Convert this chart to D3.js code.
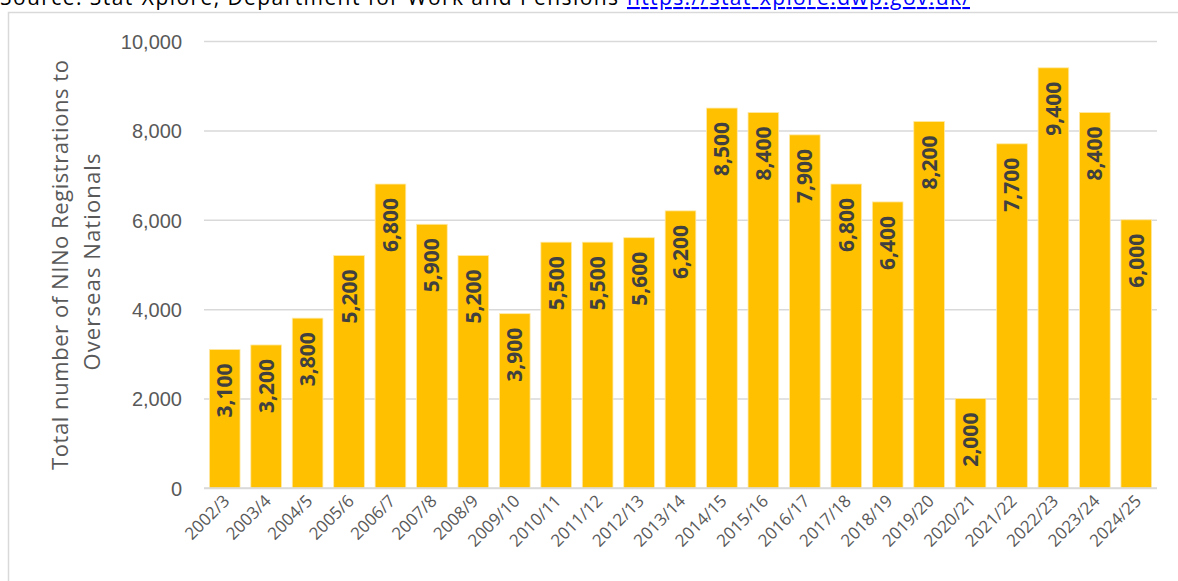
<!DOCTYPE html>
<html lang="en">
<head>
  <meta charset="UTF-8" />
  <title>NINo Registrations to Overseas Nationals</title>
  <script src="https://d3js.org/d3.v7.min.js"></script>
  <style>
    body { margin: 0; background: #fff; }
    svg { display: block; font-family: "Open Sans", sans-serif; }
  </style>
</head>
<body>
  <div id="chart"></div>

  <script>
    // data
    const years = ["2002/3", "2003/4", "2004/5", "2005/6", "2006/7", "2007/8", "2008/9",
      "2009/10", "2010/11", "2011/12", "2012/13", "2013/14", "2014/15", "2015/16",
      "2016/17", "2017/18", "2018/19", "2019/20", "2020/21", "2021/22", "2022/23",
      "2023/24", "2024/25"];
    const registrations = [3100, 3200, 3800, 5200, 6800, 5900, 5200, 3900, 5500, 5500, 5600,
      6200, 8500, 8400, 7900, 6800, 6400, 8200, 2000, 7700, 9400, 8400, 6000];
    const yTicks = [0, 2000, 4000, 6000, 8000, 10000];
    const yTitle = ["Total number of NINo Registrations to", "Overseas Nationals"];
    const yTitleLen = [410, 217];
    const sourceText = "Source: Stat-Xplore, Department for Work and Pensions";
    const sourceLink = "https://stat-xplore.dwp.gov.uk/";

    const W = 1178, H = 581;
    const margin = {top: 41, right: 21, bottom: 93, left: 204};
    const width = W - margin.left - margin.right,
          height = H - margin.top - margin.bottom;

    const svg = d3.select("#chart")
      .append("svg")
      .attr("width", W)
      .attr("height", H);

    // source line, cut off by the top of the picture (as in the original)
    svg.append("text")
      .attr("x", 0)
      .attr("y", 5)
      .attr("textLength", 618)
      .style("font-size", "21px")
      .attr("fill", "#000")
      .text(sourceText);
    svg.append("text")
      .attr("x", 627)
      .attr("y", 5)
      .attr("textLength", 343)
      .style("font-size", "21px")
      .style("text-decoration", "underline")
      .attr("fill", "#0000ff")
      .text(sourceLink);

    // chart frame
    svg.append("rect")
      .attr("x", 8.5)
      .attr("y", 12.5)
      .attr("width", 1200)
      .attr("height", 600)
      .attr("fill", "none")
      .attr("stroke", "#d9d9d9")
      .attr("stroke-width", 1.5);

    const g = svg.append("g")
      .attr("transform", `translate(${margin.left},${margin.top})`);

    const x = d3.scaleBand()
      .domain(years)
      .range([0, width])
      .paddingInner(0.26)
      .paddingOuter(0.13);

    const y = d3.scaleLinear()
      .domain([0, 10000])
      .range([height, 0]);

    // gridlines + y labels
    const yAxis = g.append("g")
      .call(d3.axisLeft(y).tickValues(yTicks).tickSize(-width).tickPadding(22)
        .tickFormat(d3.format(",")));
    yAxis.select(".domain").remove();
    yAxis.selectAll(".tick line")
      .attr("stroke", "#d9d9d9")
      .attr("stroke-width", 1.5);
    yAxis.selectAll(".tick text")
      .attr("fill", "#595959")
      .style("font-size", "20px")
      .attr("dy", "0.36em");

    // bars
    g.selectAll("rect.bar")
      .data(registrations)
      .enter()
      .append("rect")
      .attr("class", "bar")
      .attr("x", (d, i) => x(years[i]))
      .attr("y", d => y(d))
      .attr("width", x.bandwidth())
      .attr("height", d => height - y(d))
      .attr("fill", "#ffc000")
      .attr("stroke", "#ffe9a6")
      .attr("stroke-width", 0.8);

    // value labels inside the top of each bar
    g.selectAll("text.val")
      .data(registrations)
      .enter()
      .append("text")
      .attr("class", "val")
      .attr("transform", (d, i) =>
        `translate(${x(years[i]) + x.bandwidth() / 2 + 7.5},${y(d) + 14}) rotate(-90)`)
      .attr("text-anchor", "end")
      .attr("fill", "#404040")
      .style("font-size", "21px")
      .style("font-weight", "bold")
      .text(d => d3.format(",")(d));

    // x axis baseline
    g.append("line")
      .attr("x1", 0)
      .attr("x2", width)
      .attr("y1", height)
      .attr("y2", height)
      .attr("stroke", "#d9d9d9")
      .attr("stroke-width", 1.5);

    // x labels, rotated
    g.selectAll("text.cat")
      .data(years)
      .enter()
      .append("text")
      .attr("class", "cat")
      .attr("transform", d =>
        `translate(${x(d) + x.bandwidth() / 2 + 6},${height + 14}) rotate(-45)`)
      .attr("text-anchor", "end")
      .attr("fill", "#595959")
      .style("font-size", "17px")
      .text(d => d);

    // y axis title, two lines
    svg.selectAll("text.ytitle")
      .data(yTitle)
      .enter()
      .append("text")
      .attr("class", "ytitle")
      .attr("transform", (d, i) => `translate(${68 + i * 32},${265 - i * 3}) rotate(-90)`)
      .attr("text-anchor", "middle")
      .attr("textLength", (d, i) => yTitleLen[i])
      .attr("fill", "#595959")
      .style("font-size", "22px")
      .text(d => d);
  </script>
</body>
</html>
